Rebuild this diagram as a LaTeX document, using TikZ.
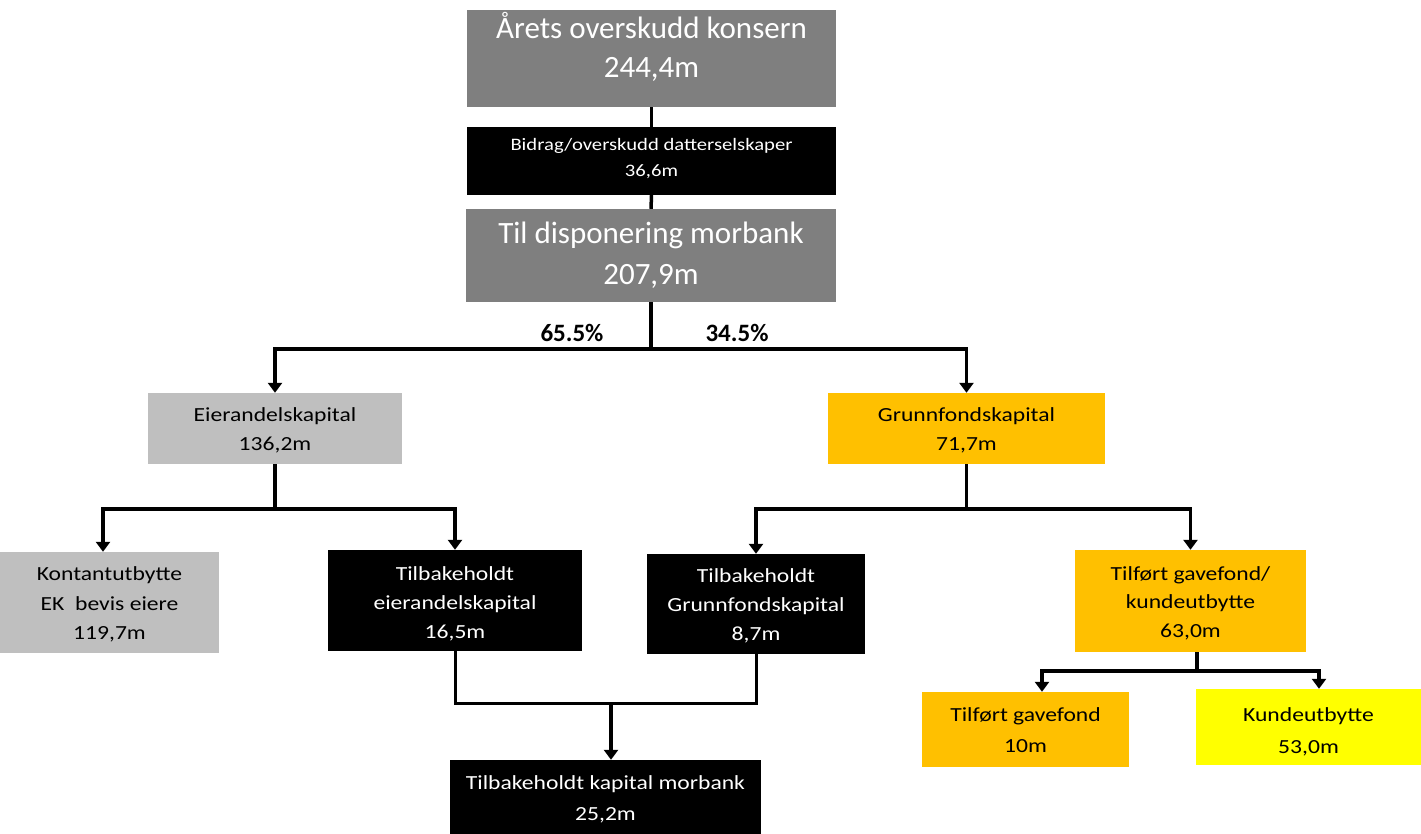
\documentclass[tikz,border=0pt]{standalone}
\usepackage{fontspec}
\setmainfont{Carlito}
\newfontfamily\wfont[FakeStretch=1.18]{Carlito}
\usetikzlibrary{arrows.meta}
\newcommand\strutH[1]{\rule{0pt}{#1pt}}
\newcommand\strutD[1]{\rule[-#1pt]{0pt}{#1pt}}
\definecolor{cgray}{RGB}{127,127,127}
\definecolor{lgray}{RGB}{191,191,191}
\definecolor{corange}{RGB}{255,192,0}
\definecolor{cyellow}{RGB}{255,255,0}
\begin{document}
\begin{tikzpicture}[x=1pt,y=-1pt,
  box/.style={rectangle, inner sep=0pt, align=center},
  bigtxt/.style={font=\fontsize{31}{#1}\selectfont},
  midtxt/.style={font=\wfont\fontsize{20}{#1}\selectfont},
  ln/.style={line width=3.5pt},
  arr/.style={line width=3.5pt, -{Triangle[width=14pt,length=10pt]}},
  pct/.style={anchor=base, inner sep=0pt, font=\bfseries\fontsize{25}{30}\selectfont}]
\useasboundingbox (0,0) rectangle (1421,834);

% boxes
\node[box, fill=cgray, text=white, minimum width=369pt, minimum height=97pt, bigtxt=39] (A) at (651.5,58.5)
  {\strutH{27}Årets overskudd konsern\\244,4m\strutD{27}};
\node[box, fill=black, text=white, minimum width=369pt, minimum height=68pt, font=\wfont\fontsize{17.5}{26}\selectfont] (B) at (651.5,161)
  {\strutH{15}Bidrag/overskudd datterselskaper\\36,6m\strutD{9.6}};
\node[box, fill=cgray, text=white, minimum width=370pt, minimum height=93pt, bigtxt=42] (C) at (651,255.5)
  {\strutH{27}Til disponering morbank\\207,9m\strutD{10}};

\node[box, fill=lgray, minimum width=254pt, minimum height=71pt, midtxt=29] (D) at (275,428.5)
  {\strutH{19}Eierandelskapital\\136,2m\strutD{4}};
\node[box, fill=corange, minimum width=277pt, minimum height=71pt, midtxt=29] (E) at (966.5,428.5)
  {\strutH{19}Grunnfondskapital\\71,7m\strutD{4}};

\node[box, fill=lgray, minimum width=219pt, minimum height=101pt, midtxt=29.5] (F) at (109.5,602.5)
  {\strutH{19.7}Kontantutbytte\\EK~~bevis eiere\\119,7m\strutD{4}};
\node[box, fill=black, text=white, minimum width=254pt, minimum height=101pt, midtxt=28.7] (G) at (455,600.5)
  {\strutH{21.7}Tilbakeholdt\\eierandelskapital\\16,5m\strutD{4}};
\node[box, fill=black, text=white, minimum width=218pt, minimum height=100pt, midtxt=29] (H) at (756,604)
  {\strutH{18}Tilbakeholdt\\Grunnfondskapital\\8,7m\strutD{4}};
\node[box, fill=corange, minimum width=231pt, minimum height=102pt, midtxt=28.5] (I) at (1190.5,601)
  {\strutH{19}Tilført gavefond/\\kundeutbytte\\63,0m\strutD{4}};

\node[box, fill=corange, minimum width=207pt, minimum height=75pt, midtxt=31] (J) at (1025.5,729.5)
  {\strutH{19.4}Tilført gavefond\\10m\strutD{4}};
\node[box, fill=cyellow, minimum width=225pt, minimum height=76pt, midtxt=31.6] (K) at (1308.5,727)
  {\strutH{25}Kundeutbytte\\53,0m\strutD{4}};
\node[box, fill=black, text=white, minimum width=311pt, minimum height=74pt, midtxt=31] (L) at (605.5,797)
  {\strutH{19}Tilbakeholdt kapital morbank\\25,2m\strutD{4}};

% percentages
\node[pct] (p1) at (572,341) {65.5\%};
\node[pct] (p2) at (737,341) {34.5\%};

% junction points
\coordinate (s1) at (651,349);
\coordinate (s2) at (275,509);
\coordinate (s3) at (966.5,509);
\coordinate (s4) at (1197,671);
\coordinate (m) at (611,703);

% connectors
\draw[ln] (A.south) -- (B.north);
\draw[ln] (B.south) -- (C.north);
\draw[ln] (C.south) -- (s1);
\draw[arr] (s1) -| (D.north);
\draw[arr] (s1) -| (E.north);

\draw[ln] (D.south) -- (s2);
\draw[arr] (s2) -| ([xshift=-6.5pt]F.north);
\draw[arr] (s2) -| (G.north);

\draw[ln] (E.south) -- (s3);
\draw[arr] (s3) -| (H.north);
\draw[arr] (s3) -| (I.north);

\draw[ln] (s4 |- I.south) -- (s4);
\draw[arr] (s4) -| ([xshift=16.5pt]J.north);
\draw[arr] (s4) -| ([xshift=10.5pt]K.north);

\draw[line width=3pt] (G.south) -- (G.south |- m) -- (H.south |- m) -- (H.south);
\draw[arr] (m) -- (m |- L.north);
\end{tikzpicture}
\end{document}
